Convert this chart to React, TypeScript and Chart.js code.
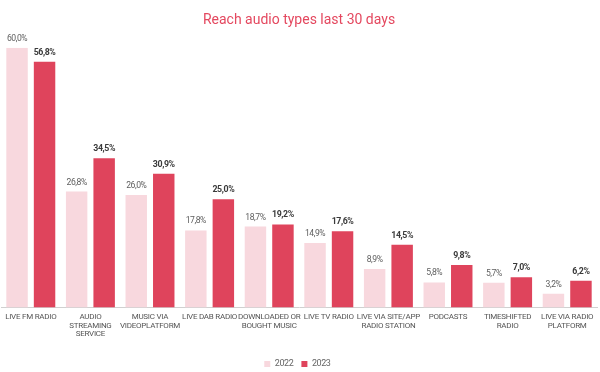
import React, { useEffect, useRef } from "react";
import { Chart, registerables } from "chart.js";

Chart.register(...registerables);

const categories: string[][] = [
  ["LIVE FM RADIO"],
  ["AUDIO", "STREAMING", "SERVICE"],
  ["MUSIC VIA", "VIDEOPLATFORM"],
  ["LIVE DAB RADIO"],
  ["DOWNLOADED OR", "BOUGHT MUSIC"],
  ["LIVE TV RADIO"],
  ["LIVE VIA SITE/APP", "RADIO STATION"],
  ["PODCASTS"],
  ["TIMESHIFTED", "RADIO"],
  ["LIVE VIA RADIO", "PLATFORM"],
];
const values2022: number[] = [60.0, 26.8, 26.0, 17.8, 18.7, 14.9, 8.9, 5.8, 5.7, 3.2];
const values2023: number[] = [56.8, 34.5, 30.9, 25.0, 19.2, 17.6, 14.5, 9.8, 7.0, 6.2];
const seriesNames: string[] = ["2022", "2023"];

const FONT = "Roboto, 'Noto Sans', sans-serif";

const dataLabels = {
  id: "dataLabels",
  beforeDraw(chart: any) {
    const wrap = (obj: any, name: string, ls: string) => {
      if (!obj || obj["__w_" + name]) return;
      const orig = obj[name];
      obj[name] = function (...args: any[]) {
        const c: any = chart.ctx;
        c.save();
        c.letterSpacing = ls;
        const r = orig.apply(this, args);
        c.restore();
        return r;
      };
      obj["__w_" + name] = true;
    };
    wrap(chart.scales.x, "drawLabels", "-0.25px");
    wrap(chart.legend, "draw", "-0.4px");
  },
  afterDatasetsDraw(chart: any) {
    const ctx: any = chart.ctx;
    chart.data.datasets.forEach((ds: any, i: number) => {
      const meta = chart.getDatasetMeta(i);
      meta.data.forEach((el: any, j: number) => {
        const v = ds.data[j] as number;
        const text = v.toFixed(1).replace(".", ",") + "%";
        ctx.save();
        ctx.letterSpacing = i === 1 ? "-0.4px" : "-0.45px";
        ctx.font = i === 1 ? "bold 8.8px " + FONT : "8.6px " + FONT;
        ctx.fillStyle = i === 1 ? "#3a3a3a" : "#5e5e5e";
        ctx.textAlign = "center";
        ctx.textBaseline = "alphabetic";
        ctx.fillText(text, el.x, el.y - 7);
        ctx.restore();
      });
    });
  },
};

export default function App() {
  const ref = useRef<HTMLCanvasElement | null>(null);
  useEffect(() => {
    document.body.style.margin = "0";
    if (!ref.current) return;
    const chart = new Chart(ref.current, {
      type: "bar",
      data: {
        labels: categories,
        datasets: [
          {
            label: seriesNames[0],
            data: values2022,
            backgroundColor: "#F8D8DE",
            categoryPercentage: 0.923,
            barPercentage: 0.78,
          },
          {
            label: seriesNames[1],
            data: values2023,
            backgroundColor: "#DF445C",
            categoryPercentage: 0.923,
            barPercentage: 0.78,
          },
        ],
      },
      options: {
        animation: false,
        responsive: false,
        maintainAspectRatio: false,
        layout: { padding: { left: 1, right: 3, top: 0, bottom: -6.5 } },
        plugins: {
          title: {
            display: true,
            text: "Reach audio types last 30 days",
            color: "#E4485F",
            font: { family: FONT, size: 14, weight: "normal" },
            padding: { top: 12, bottom: 19 },
          },
          legend: {
            position: "bottom",
            labels: {
              boxWidth: 6,
              boxHeight: 6,
              color: "#666666",
              font: { family: FONT, size: 9 },
              padding: 8,
            },
          },
          tooltip: { enabled: false },
        },
        scales: {
          x: {
            grid: { display: false, drawTicks: false },
            border: { display: true, color: "#d0d0d0", width: 1 },
            afterFit(scale: any) {
              scale.height = 44;
              scale.paddingLeft = 0;
              scale.paddingRight = 0;
            },
            ticks: {
              autoSkip: false,
              maxRotation: 0,
              color: "#555555",
              padding: 5,
              font: { family: FONT, size: 8, lineHeight: 1.09 },
            },
          },
          y: {
            display: false,
            min: 0,
            max: 60,
          },
        },
      },
      plugins: [dataLabels],
    });
    return () => chart.destroy();
  }, []);
  return (
    <div style={{ position: "absolute", left: 0, top: 0, width: 600, height: 372 }}>
      <canvas ref={ref} width={600} height={372} style={{ width: 600, height: 372 }} />
    </div>
  );
}
